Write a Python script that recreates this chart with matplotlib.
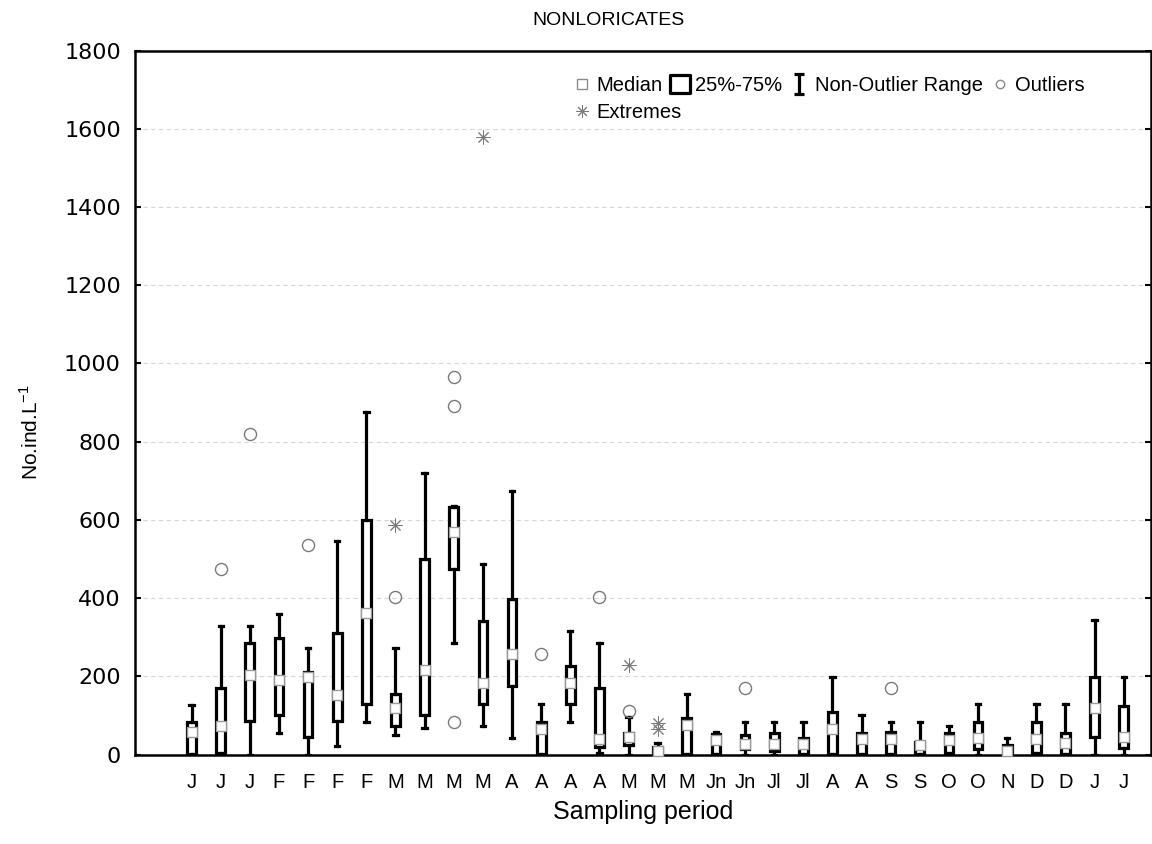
import numpy as np
import matplotlib
matplotlib.use('Agg')
import matplotlib.pyplot as plt
from matplotlib.lines import Line2D
from matplotlib.path import Path

plt.rcParams['font.family'] = ['Liberation Sans', 'DejaVu Sans']

# dados (resumo de cada box)
labels = ['J', 'J', 'J', 'F', 'F', 'F', 'F', 'M', 'M', 'M', 'M', 'A', 'A', 'A', 'A',
          'M', 'M', 'M', 'Jn', 'Jn', 'Jl', 'Jl', 'A', 'A', 'S', 'S', 'O', 'O', 'N',
          'D', 'D', 'J', 'J']
whis_low = [0, 0, 0, 56, 0, 23, 84, 50, 67, 286, 72, 42, 0, 84, 5,
            0, 0, 0, 0, 0, 0, 0, 0, 0, 0, 0, 0, 0, 0, 0, 0, 0, 0]
q1 = [2, 3, 86, 101, 46, 86, 129, 73, 101, 475, 129, 174, 2, 129, 20,
      25, 2, 2, 2, 13, 10, 2, 2, 2, 2, 2, 5, 14, 2, 3, 2, 44, 16]
median = [58, 72, 204, 191, 198, 152, 363, 118, 216, 568, 184, 257, 65, 184, 39,
          46, 8, 76, 37, 26, 27, 26, 65, 39, 39, 25, 37, 42, 8, 40, 29, 118, 46]
q3 = [83, 170, 285, 298, 212, 312, 600, 154, 500, 632, 342, 398, 83, 227, 169,
      56, 19, 93, 53, 50, 54, 42, 110, 54, 57, 33, 54, 83, 25, 83, 54, 199, 125]
whis_high = [126, 329, 329, 359, 272, 546, 877, 272, 720, 635, 488, 675, 129, 316, 286,
             97, 29, 154, 57, 84, 84, 84, 199, 100, 84, 84, 74, 129, 43, 129, 129, 343, 199]
# outliers e extremos: (índice da categoria, valor)
outliers = [(2, 475), (3, 820), (5, 535), (8, 404), (10, 892), (10, 966), (10, 84),
            (13, 257), (15, 402), (16, 112), (20, 171), (25, 171)]
extremes = [(8, 588), (11, 1580), (16, 229), (17, 80), (17, 66)]

pos = np.arange(1, len(labels) + 1)

fig, ax = plt.subplots(figsize=(11.52, 8.44), dpi=100)
fig.subplots_adjust(left=0.117, right=0.999, bottom=0.106, top=0.94)

stats = []
for i in range(len(labels)):
    stats.append(dict(whislo=whis_low[i], q1=q1[i], med=median[i], q3=q3[i],
                      whishi=whis_high[i], fliers=[]))

ax.bxp(stats, positions=pos, widths=0.3, showfliers=False, patch_artist=True,
       boxprops=dict(facecolor='white', edgecolor='black', linewidth=2.3),
       whiskerprops=dict(color='black', linewidth=2.3),
       capprops=dict(color='black', linewidth=2.3),
       medianprops=dict(linewidth=0), manage_ticks=False, zorder=3)

# mediana como quadrado branco
ax.plot(pos, median, linestyle='none', marker='s', markersize=7.5,
        markerfacecolor='white', markeredgecolor='#9a9a9a', markeredgewidth=1.0,
        zorder=5, clip_on=False)

ox = [pos[i - 1] for i, v in outliers]
oy = [v for i, v in outliers]
ax.plot(ox, oy, linestyle='none', marker='o', markersize=8.7,
        markerfacecolor='none', markeredgecolor='#7a7a7a', markeredgewidth=1.0, zorder=4)

ex = [pos[i - 1] for i, v in extremes]
ey = [v for i, v in extremes]
ax.plot(ex, ey, linestyle='none', marker=(8, 2, 0), markersize=10,
        color='#7a7a7a', markeredgewidth=0.7, zorder=4)

ax.set_ylim(0, 1800)
ax.set_xlim(-0.95, 33.93)
ax.set_yticks(np.arange(0, 1801, 200))
ax.set_xticks(pos)
ax.set_xticklabels(labels, fontsize=14.5)
ax.set_xticks(pos[::2], minor=True)
ax.tick_params(axis='x', which='major', length=0, pad=13)
ax.tick_params(axis='x', which='minor', direction='in', length=4, width=1.5,
               top=True, bottom=True)
ax.tick_params(axis='y', which='major', direction='in', length=4, width=1.5,
               left=True, right=True, pad=10)
for t in ax.get_yticklabels():
    t.set_fontfamily('DejaVu Sans')
    t.set_fontsize(16)

ax.grid(axis='y', which='major', color='#d6d6d6', linestyle=(0, (4, 3)), linewidth=0.8)
ax.grid(axis='x', which='minor', color='#d6d6d6', linestyle=(0, (4, 3)), linewidth=0.8)
ax.set_axisbelow(True)
for s in ax.spines.values():
    s.set_linewidth(1.8)

fig.text(0.5286, 0.976, 'NONLORICATES', fontsize=14, ha='center', va='center')
ax.set_xlabel('Sampling period', fontsize=18, labelpad=6)
ax.set_ylabel(r'No.ind.L$^{\mathregular{-1}}$', fontsize=15)
ax.yaxis.set_label_coords(-0.092, 0.458)

# legenda
box_icon = Path([(-0.55, -0.5), (0.55, -0.5), (0.55, 0.5), (-0.55, 0.5), (-0.55, -0.5)],
                [Path.MOVETO, Path.LINETO, Path.LINETO, Path.LINETO, Path.CLOSEPOLY])
ibeam = Path([(-0.5, 1), (0.5, 1), (0, 1), (0, -1), (-0.5, -1), (0.5, -1)],
             [Path.MOVETO, Path.LINETO, Path.MOVETO, Path.LINETO, Path.MOVETO, Path.LINETO])

h_med = Line2D([], [], linestyle='none', marker='s', markersize=7,
               markerfacecolor='white', markeredgecolor='#8a8a8a', markeredgewidth=1.0)
h_box = Line2D([], [], linestyle='none', marker=box_icon, markersize=15,
               markerfacecolor='white', markeredgecolor='black', markeredgewidth=2.3)
h_rng = Line2D([], [], linestyle='none', marker=ibeam, markersize=14,
               markerfacecolor='none', markeredgecolor='black', markeredgewidth=2.3)
h_out = Line2D([], [], linestyle='none', marker='o', markersize=6,
               markerfacecolor='none', markeredgecolor='#8a8a8a', markeredgewidth=1.0)
h_ext = Line2D([], [], linestyle='none', marker=(8, 2, 0), markersize=9,
               color='#7a7a7a', markeredgewidth=0.7)

leg1 = ax.legend([h_med, h_box, h_rng, h_out],
                 ['Median', '25%-75%', 'Non-Outlier Range', 'Outliers'],
                 ncol=4, loc='upper left', bbox_to_anchor=(0.431, 0.9636),
                 frameon=False, fontsize=14.5, handlelength=0.9, handletextpad=0.3,
                 columnspacing=0.4, borderpad=0, borderaxespad=0)
ax.add_artist(leg1)
ax.legend([h_ext], ['Extremes'], loc='upper left', bbox_to_anchor=(0.431, 0.9255),
          frameon=False, fontsize=14.5, handlelength=0.9, handletextpad=0.3,
          borderpad=0, borderaxespad=0)

plt.savefig('out.png', dpi=100)
